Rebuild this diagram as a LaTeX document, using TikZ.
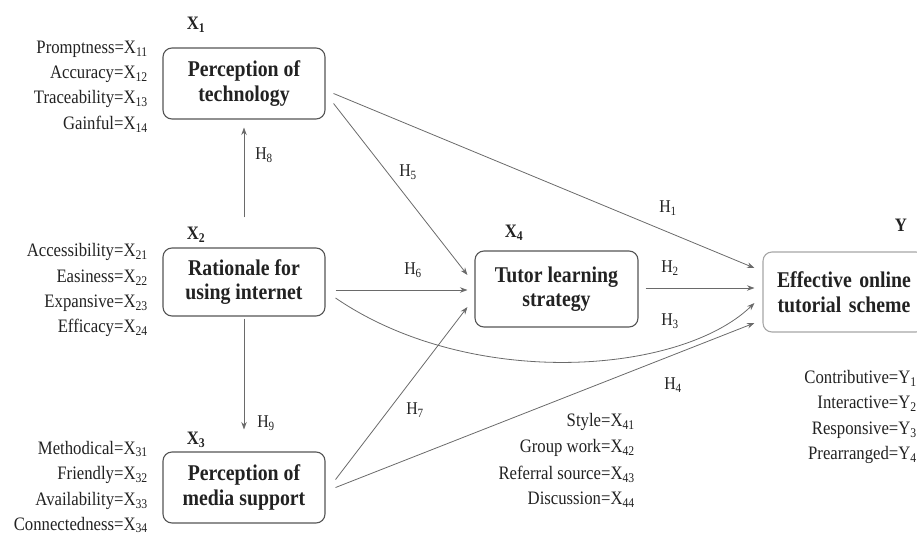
\documentclass[tikz,border=0pt]{standalone}
\usepackage{fontspec}
\setmainfont{Liberation Serif}
\newfontfamily\narrowserif[FakeStretch=0.88]{Liberation Serif}
\usetikzlibrary{calc,arrows.meta}
\definecolor{boxc}{HTML}{555555}
\definecolor{linec}{HTML}{6A6A6A}
\definecolor{txtc}{HTML}{222222}
\begin{document}
\begin{tikzpicture}[x=1pt,y=-1pt,
  box/.style={draw=boxc,line width=1.1pt,rounded corners=9pt,align=center,
    font=\narrowserif\fontsize{22.5}{24.5}\selectfont\bfseries,text=txtc,inner sep=0pt},
  item/.style={anchor=east,font=\narrowserif\fontsize{19}{21}\selectfont,text=txtc,inner sep=0pt},
  var/.style={font=\narrowserif\fontsize{19}{21}\selectfont\bfseries,text=txtc,inner sep=0pt},
  hlab/.style={font=\narrowserif\fontsize{18}{20}\selectfont,text=txtc,inner sep=0pt},
  conn/.style={draw=linec,line width=0.8pt,-{Stealth[length=7.5pt,width=5.5pt]}}]
\useasboundingbox (0,0) rectangle (917,535);

% boxes
\node[box,minimum width=162pt,minimum height=71pt] (tech) at (244,83.5) {Perception of\\technology};
\node[box,minimum width=162pt,minimum height=68pt] (rat) at (244,282) {Rationale for\\using internet};
\node[box,minimum width=162pt,minimum height=71pt] (med) at (244,487.5) {Perception of\\media support};
\node[box,minimum width=163pt,minimum height=76pt] (tut) at (556.5,289) {Tutor learning\\strategy};
\node[box,draw=gray!70,minimum width=162pt,minimum height=80pt,text width=150pt] (eff) at (844,292) {Effective online\\tutorial scheme};

% variable labels
\node[var] (x1) at (196,25) {X\textsubscript{1}};
\node[var] (x2) at (196,235) {X\textsubscript{2}};
\node[var] (x3) at (196,440) {X\textsubscript{3}};
\node[var] (x4) at (514,233) {X\textsubscript{4}};
\node[var] (yv) at (901,225) {Y};

% indicator items
\node[item] (i11) at (148,49) {Promptness=X\textsubscript{11}};
\node[item] (i12) at (148,74) {Accuracy=X\textsubscript{12}};
\node[item] (i13) at (148,99) {Traceability=X\textsubscript{13}};
\node[item] (i14) at (148,124) {Gainful=X\textsubscript{14}};

\node[item] (i21) at (148,252) {Accessibility=X\textsubscript{21}};
\node[item] (i22) at (148,278) {Easiness=X\textsubscript{22}};
\node[item] (i23) at (148,303) {Expansive=X\textsubscript{23}};
\node[item] (i24) at (148,328) {Efficacy=X\textsubscript{24}};

\node[item] (i31) at (148,449) {Methodical=X\textsubscript{31}};
\node[item] (i32) at (148,475) {Friendly=X\textsubscript{32}};
\node[item] (i33) at (148,501) {Availability=X\textsubscript{33}};
\node[item] (i34) at (148,525) {Connectedness=X\textsubscript{34}};

\node[item] (i41) at (635,422) {Style=X\textsubscript{41}};
\node[item] (i42) at (635,448) {Group work=X\textsubscript{42}};
\node[item] (i43) at (635,474) {Referral source=X\textsubscript{43}};
\node[item] (i44) at (635,500) {Discussion=X\textsubscript{44}};

\node[item] (y1) at (917,378) {Contributive=Y\textsubscript{1}};
\node[item] (y2) at (917,404) {Interactive=Y\textsubscript{2}};
\node[item] (y3) at (917,430) {Responsive=Y\textsubscript{3}};
\node[item] (y4) at (917,455) {Prearranged=Y\textsubscript{4}};

% connectors
\draw[conn,shorten <=30pt,shorten >=8pt] (rat.north) -- (tech.south);
\draw[conn,shorten <=2pt,shorten >=22pt] (rat.south) -- (med.north);
\draw[conn] ($(tech.east)+(8,10)$) -- ($(eff.west)+(-8,-24)$);
\draw[conn] ($(tech.east)+(8,20)$) -- ($(tut.west)+(-7,-14)$);
\draw[conn] ($(rat.east)+(10,8)$) -- ($(tut.west)+(-7,1)$);
\draw[conn] ($(rat.east)+(10,16)$) .. controls (470,390) and (680,375) .. ($(eff.west)+(-8,11)$);
\draw[conn] ($(med.east)+(10,-8)$) -- ($(tut.west)+(-7,18)$);
\draw[conn] ($(med.east)+(10,0)$) -- ($(eff.west)+(-8,31)$);
\draw[conn] ($(tut.east)+(7,-1)$) -- ($(eff.west)+(-8,-4)$);

% hypothesis labels
\node[hlab] (h1) at (668,208) {H\textsubscript{1}};
\node[hlab] (h2) at (670,268) {H\textsubscript{2}};
\node[hlab] (h3) at (670,321) {H\textsubscript{3}};
\node[hlab] (h4) at (673,385) {H\textsubscript{4}};
\node[hlab] (h5) at (408,172) {H\textsubscript{5}};
\node[hlab] (h6) at (413,270) {H\textsubscript{6}};
\node[hlab] (h7) at (415,410) {H\textsubscript{7}};
\node[hlab] (h8) at (264,155) {H\textsubscript{8}};
\node[hlab] (h9) at (266,423) {H\textsubscript{9}};
\end{tikzpicture}
\end{document}
